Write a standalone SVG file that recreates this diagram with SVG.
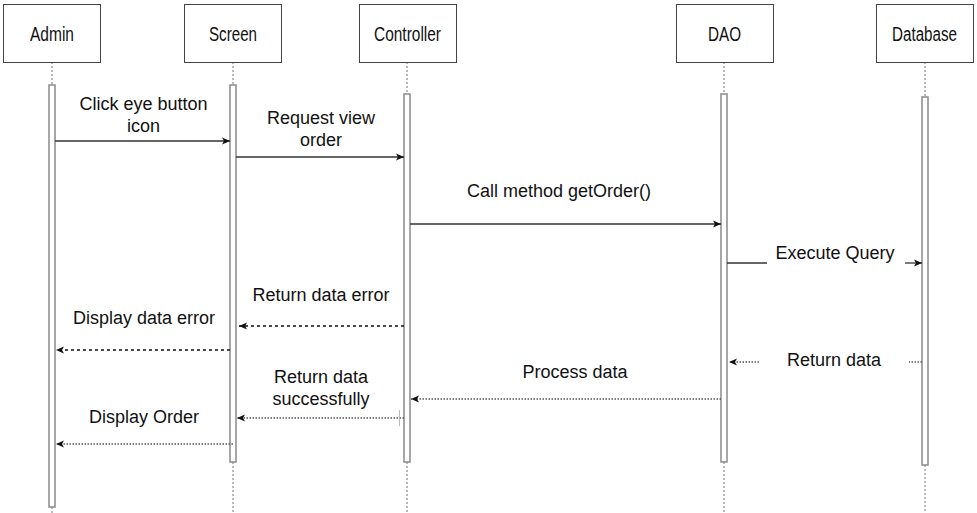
<svg xmlns="http://www.w3.org/2000/svg" width="977" height="513" viewBox="0 0 977 513">
<style>
.box{fill:#fff;stroke:#444;stroke-width:1}
.bar{fill:#fff;stroke:#8a8a8a;stroke-width:1.5}
.life{stroke:#777;stroke-width:1;stroke-dasharray:2,2;fill:none}
.nl{font-family:"Liberation Sans",Arial,sans-serif;font-size:19.5px;fill:#111;text-anchor:middle}
.ml{font-family:"Liberation Sans",Arial,sans-serif;font-size:18px;fill:#111;text-anchor:middle}
.sol{stroke:#333;stroke-width:1.3;fill:none}
.dash{stroke:#111;stroke-width:1.4;stroke-dasharray:3,3;fill:none}
.dot{stroke:#555;stroke-width:1.3;stroke-dasharray:1.5,1.5;fill:none}
</style>
<defs>
<marker id="ah" markerUnits="userSpaceOnUse" markerWidth="9" markerHeight="8" refX="8" refY="4" orient="auto">
<path d="M0,0.5 L8,4 L0,7.5 L2,4 Z" fill="#111"/>
</marker>
</defs>
<rect width="977" height="513" fill="#fff"/>
<g id="lifelines">
<line class="life" x1="52" y1="62" x2="52" y2="85"/>
<line class="life" x1="52" y1="507" x2="52" y2="513"/>
<line class="life" x1="233" y1="62" x2="233" y2="85"/>
<line class="life" x1="233" y1="462" x2="233" y2="513"/>
<line class="life" x1="407" y1="62" x2="407" y2="94"/>
<line class="life" x1="407" y1="462" x2="407" y2="513"/>
<line class="life" x1="724" y1="62" x2="724" y2="94"/>
<line class="life" x1="724" y1="462" x2="724" y2="513"/>
<line class="life" x1="925" y1="62" x2="925" y2="97"/>
<line class="life" x1="925" y1="465" x2="925" y2="513"/>
</g>
<g id="admin">
<rect class="box" x="3.5" y="4.5" width="97" height="58"/>
<text class="nl" x="52" y="41" textLength="44" lengthAdjust="spacingAndGlyphs">Admin</text>
<rect class="bar" x="49" y="85" width="6" height="422"/>
</g>
<g id="screen">
<rect class="box" x="184.5" y="4.5" width="97" height="58"/>
<text class="nl" x="233" y="41" textLength="48" lengthAdjust="spacingAndGlyphs">Screen</text>
<rect class="bar" x="230" y="85" width="6" height="377"/>
</g>
<g id="controller">
<rect class="box" x="359.5" y="4.5" width="97" height="58"/>
<text class="nl" x="407.5" y="41" textLength="67" lengthAdjust="spacingAndGlyphs">Controller</text>
<rect class="bar" x="404" y="94" width="6" height="368"/>
</g>
<g id="dao">
<rect class="box" x="676.5" y="4.5" width="97" height="58"/>
<text class="nl" x="724.5" y="41" textLength="33" lengthAdjust="spacingAndGlyphs">DAO</text>
<rect class="bar" x="721" y="94" width="6" height="368"/>
</g>
<g id="database">
<rect class="box" x="876.5" y="4.5" width="97" height="58"/>
<text class="nl" x="924.5" y="41" textLength="65" lengthAdjust="spacingAndGlyphs">Database</text>
<rect class="bar" x="922" y="97" width="6" height="368"/>
</g>
<g id="connectors">
<line class="sol" x1="55" y1="141" x2="230" y2="141" marker-end="url(#ah)"/>
<line class="sol" x1="236" y1="157" x2="404" y2="157" marker-end="url(#ah)"/>
<line class="sol" x1="410" y1="224" x2="721" y2="224" marker-end="url(#ah)"/>
<line class="sol" x1="727" y1="263" x2="767" y2="263"/>
<line class="sol" x1="905" y1="263" x2="922" y2="263" marker-end="url(#ah)"/>
<line class="dot" x1="922" y1="362" x2="909" y2="362"/>
<line class="dot" x1="759" y1="362" x2="729" y2="362" marker-end="url(#ah)"/>
<line class="dot" x1="721" y1="399" x2="411" y2="399" marker-end="url(#ah)"/>
<line class="dash" x1="404" y1="326" x2="239" y2="326" marker-end="url(#ah)"/>
<line class="dash" x1="230" y1="350" x2="56" y2="350" marker-end="url(#ah)"/>
<line class="dot" x1="404" y1="418" x2="237" y2="418" marker-end="url(#ah)"/>
<line x1="399.5" y1="410" x2="399.5" y2="426" stroke="#bbb" stroke-width="1"/>
<line class="dot" x1="233" y1="444" x2="56" y2="444" marker-end="url(#ah)"/>
</g>
<g id="labels">
<text class="ml" x="143.5" y="110">Click eye button</text>
<text class="ml" x="143.5" y="132">icon</text>
<text class="ml" x="321" y="124">Request view</text>
<text class="ml" x="321" y="146">order</text>
<text class="ml" x="559" y="197">Call method getOrder()</text>
<text class="ml" x="835" y="259">Execute Query</text>
<text class="ml" x="834" y="366">Return data</text>
<text class="ml" x="575" y="378">Process data</text>
<text class="ml" x="321" y="301">Return data error</text>
<text class="ml" x="144" y="324">Display data error</text>
<text class="ml" x="321" y="383">Return data</text>
<text class="ml" x="321" y="405">successfully</text>
<text class="ml" x="144" y="423">Display Order</text>
</g>
</svg>
